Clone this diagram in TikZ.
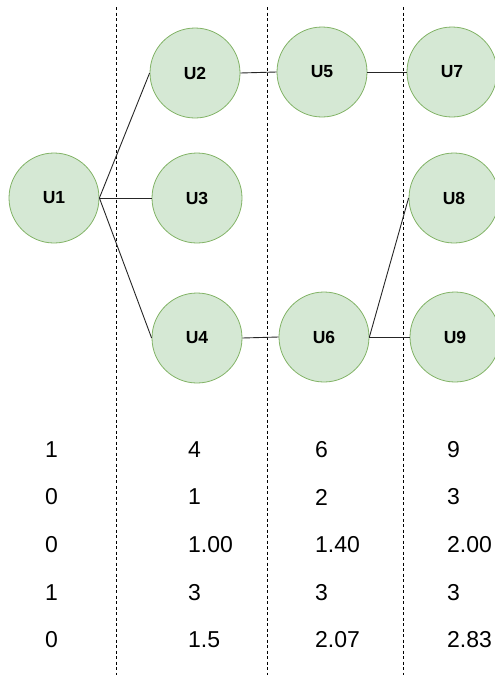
\documentclass[tikz,border=0pt]{standalone}
\usepackage{fontspec}
\setmainfont{Liberation Sans}
\begin{document}
\begin{tikzpicture}[x=1pt,y=-1pt,
  unit/.style={circle,draw=unitline,fill=unitfill,line width=0.8pt,minimum size=90pt,inner sep=0pt,
    font=\fontsize{17.5}{20}\selectfont\bfseries},
  link/.style={draw=black!85,line width=0.9pt},
  divider/.style={draw=black,line width=0.8pt,dash pattern=on 3pt off 2.5pt},
  val/.style={anchor=west,inner sep=0pt,font=\fontsize{23}{26}\selectfont}]
\definecolor{unitfill}{HTML}{D5E8D4}
\definecolor{unitline}{HTML}{82B366}
\useasboundingbox (0,0) rectangle (495,675);

% column dividers
\coordinate (d1t) at (116,7);   \coordinate (d1b) at (116,675);
\coordinate (d2t) at (267,7);   \coordinate (d2b) at (267,675);
\coordinate (d3t) at (403,7);   \coordinate (d3b) at (403,675);
\draw[divider] (d1t) -- (d1b);
\draw[divider] (d2t) -- (d2b);
\draw[divider] (d3t) -- (d3b);

% units
\node[unit] (u1) at (54,198)  {U1};
\node[unit] (u2) at (195,73)  {U2};
\node[unit] (u3) at (197,198) {U3};
\node[unit] (u4) at (197,338) {U4};
\node[unit] (u5) at (322,72)  {U5};
\node[unit] (u6) at (324,337) {U6};
\node[unit] (u7) at (452,72)  {U7};
\node[unit] (u8) at (454,198) {U8};
\node[unit] (u9) at (455,337) {U9};

% links
\draw[link] (u1.east) -- (u2.west);
\draw[link] (u1.east) -- (u3.west);
\draw[link] (u1.east) -- (u4.west);
\draw[link] (u2.east) -- (u5.west);
\draw[link] (u5.east) -- (u7.west);
\draw[link] (u4.east) -- (u6.west);
\draw[link] (u6.east) -- (u8.west);
\draw[link] (u6.east) -- (u9.west);

% values per column
\node[val] (a1) at (45,450) {1};
\node[val] (a2) at (45,497) {0};
\node[val] (a3) at (45,545) {0};
\node[val] (a4) at (45,593) {1};
\node[val] (a5) at (45,640) {0};

\node[val] (b1) at (188,450) {4};
\node[val] (b2) at (188,497) {1};
\node[val] (b3) at (188,545) {1.00};
\node[val] (b4) at (188,593) {3};
\node[val] (b5) at (188,640) {1.5};

\node[val] (c1) at (315,450) {6};
\node[val] (c2) at (315,497) {2};
\node[val] (c3) at (315,545) {1.40};
\node[val] (c4) at (315,593) {3};
\node[val] (c5) at (315,640) {2.07};

\node[val] (e1) at (447,450) {9};
\node[val] (e2) at (447,497) {3};
\node[val] (e3) at (447,545) {2.00};
\node[val] (e4) at (447,593) {3};
\node[val] (e5) at (447,640) {2.83};
\end{tikzpicture}
\end{document}
